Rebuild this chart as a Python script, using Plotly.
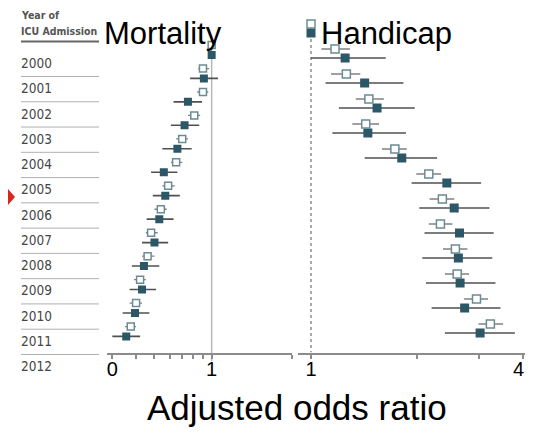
import math
import plotly.graph_objects as go

W, H = 533, 444
OX, OY = 8, 8   # page offset of the figure inside the browser window

# ---------------- data ----------------
years = [2000, 2001, 2002, 2003, 2004, 2005, 2006, 2007, 2008, 2009, 2010, 2011, 2012]

# Mortality (open = crude, filled = adjusted)
mort_crude    = [1.00, 0.90, 0.90, 0.81, 0.70, 0.65, 0.59, 0.54, 0.48, 0.46, 0.42, 0.40, 0.375]
mort_crude_lo = [1.00, 0.85, 0.84, 0.75, 0.65, 0.61, 0.55, 0.50, 0.45, 0.43, 0.39, 0.37, 0.35]
mort_crude_hi = [1.00, 0.97, 0.96, 0.87, 0.75, 0.70, 0.64, 0.58, 0.52, 0.50, 0.45, 0.43, 0.40]
mort_adj      = [1.00, 0.91, 0.75, 0.72, 0.66, 0.56, 0.57, 0.53, 0.50, 0.44, 0.43, 0.395, 0.355]
mort_adj_lo   = [1.00, 0.77, 0.63, 0.61, 0.55, 0.48, 0.49, 0.455, 0.43, 0.38, 0.37, 0.34, 0.30]
mort_adj_hi   = [1.00, 1.08, 0.89, 0.86, 0.785, 0.66, 0.68, 0.63, 0.59, 0.53, 0.51, 0.47, 0.42]

# Handicap
hand_crude    = [1.00, 1.17, 1.26, 1.46, 1.43, 1.73, 2.16, 2.36, 2.33, 2.57, 2.60, 2.95, 3.23]
hand_crude_lo = [1.00, 1.07, 1.14, 1.34, 1.31, 1.59, 1.99, 2.17, 2.16, 2.37, 2.40, 2.72, 2.99]
hand_crude_hi = [1.00, 1.29, 1.38, 1.61, 1.56, 1.87, 2.34, 2.55, 2.52, 2.78, 2.81, 3.18, 3.51]
hand_adj      = [1.00, 1.25, 1.42, 1.54, 1.45, 1.81, 2.43, 2.55, 2.64, 2.62, 2.65, 2.73, 3.02]
hand_adj_lo   = [1.00, 1.00, 1.10, 1.20, 1.15, 1.42, 1.93, 2.03, 2.10, 2.07, 2.12, 2.20, 2.40]
hand_adj_hi   = [1.00, 1.63, 1.83, 1.97, 1.86, 2.28, 3.04, 3.21, 3.30, 3.27, 3.34, 3.45, 3.79]

mort_ticks = [0.3, 0.4, 0.5, 0.6, 0.7, 0.8, 0.9, 1.0, 2.64]
mort_ticktext = ["0", "", "", "", "", "", "", "1", ""]
hand_ticks = [1, 2, 3, 4]
hand_ticktext = ["1", "", "", ""]
hand_end_label = "4"

# ---------------- helpers (page pixels -> paper) ----------------
def px(x):
    return (x - OX) / W

def py(y):
    return 1 - (y - OY) / H

idx = list(range(len(years)))
FILL = "#2c5766"
OPEN_LINE = "#6a8c94"
ERR_F = "#505050"
ERR_O = "#808080"

fig = go.Figure()

def add_panel(xa, ya, crude, clo, chi, adj, alo, ahi, off, s_open, s_fill):
    fig.add_trace(go.Scatter(
        x=adj, y=[i + off for i in idx], mode="markers",
        xaxis=xa, yaxis=ya,
        marker=dict(symbol="square", size=s_fill, color=FILL, line=dict(width=0)),
        error_x=dict(type="data", symmetric=False,
                     array=[h - v for h, v in zip(ahi, adj)],
                     arrayminus=[v - l for v, l in zip(adj, alo)],
                     color=ERR_F, thickness=1.6, width=0),
        showlegend=False, hoverinfo="skip"))
    fig.add_trace(go.Scatter(
        x=crude, y=[i - off for i in idx], mode="markers",
        xaxis=xa, yaxis=ya,
        marker=dict(symbol="square", size=s_open, color="white",
                    line=dict(width=1.5, color=OPEN_LINE)),
        error_x=dict(type="data", symmetric=False,
                     array=[h - v for h, v in zip(chi, crude)],
                     arrayminus=[v - l for v, l in zip(crude, clo)],
                     color=ERR_O, thickness=1.3, width=0),
        showlegend=False, hoverinfo="skip"))

add_panel("x", "y", mort_crude, mort_crude_lo, mort_crude_hi,
          mort_adj, mort_adj_lo, mort_adj_hi, 0.21, 7, 8)
add_panel("x2", "y2", hand_crude, hand_crude_lo, hand_crude_hi,
          hand_adj, hand_adj_lo, hand_adj_hi, 0.18, 8, 9)

# year label column
fig.add_trace(go.Scatter(
    x=[0] * len(years), y=idx, mode="text", text=[str(y) for y in years],
    textposition="middle right", xaxis="x3", yaxis="y3", cliponaxis=False,
    textfont=dict(family="DejaVu Sans Condensed, Liberation Sans Narrow, sans-serif",
                  size=13.5, color="#454545"),
    showlegend=False, hoverinfo="skip"))

tick_font = dict(family="Liberation Sans, Arial, sans-serif", size=20, color="black")
axis_common = dict(showgrid=False, zeroline=False, showline=True,
                   linecolor="#8c8c8c", linewidth=2, ticks="outside",
                   ticklen=4, tickwidth=1.5, tickcolor="#8c8c8c",
                   ticklabelstandoff=-7, tickfont=tick_font)

fig.update_layout(
    width=W, height=H, margin=dict(l=0, r=0, t=0, b=0),
    paper_bgcolor="white", plot_bgcolor="rgba(0,0,0,0)",
    xaxis=dict(domain=[px(107), px(292)], type="log", range=[-0.551, 0.423],
               anchor="y", tickvals=mort_ticks, ticktext=mort_ticktext,
               **axis_common),
    yaxis=dict(domain=[py(353.3), py(20)], range=[12.93, -1.279],
               visible=False, anchor="x"),
    xaxis2=dict(domain=[px(298), px(528)], type="log", range=[-0.0369, 0.616],
                anchor="y2", tickvals=hand_ticks, ticktext=hand_ticktext,
                **axis_common),
    yaxis2=dict(domain=[py(352.5), py(15)], range=[12.96, -0.54],
                visible=False, anchor="x2"),
    xaxis3=dict(domain=[px(21), px(99)], range=[0, 1], visible=False, anchor="y3"),
    yaxis3=dict(domain=[py(444 + OY), py(OY)], range=[15.327, -2.244],
                visible=False, anchor="x3"),
)

shapes = []
# reference lines at OR = 1
shapes.append(dict(type="line", xref="x", yref="paper", x0=1, x1=1,
                   y0=py(361), y1=py(42),
                   line=dict(color="#b8b8b8", width=1.5), layer="below"))
shapes.append(dict(type="line", xref="x2", yref="y2", x0=1, x1=1, y0=-0.3, y1=12.96,
                   line=dict(color="#8c8c8c", width=1.5, dash="dot"), layer="below"))
# separators in the year column
for i in idx[:-1]:
    shapes.append(dict(type="line", xref="x3", yref="y3", x0=0, x1=1,
                       y0=i + 0.467, y1=i + 0.467,
                       line=dict(color="#b0b0b0", width=1)))
# header underline
shapes.append(dict(type="line", xref="x3", yref="paper", x0=0, x1=1,
                   y0=py(41.5), y1=py(41.5), line=dict(color="#666666", width=2)))
# red arrow (its left part lies in the page margin)
shapes.append(dict(type="path", xref="paper", yref="paper",
                   path=f"M {px(8)},{py(189)} L {px(15)},{py(197)} L {px(8)},{py(205)} Z",
                   fillcolor="#d8261a", line=dict(width=0)))
fig.update_layout(shapes=shapes)

hdr_font = dict(family="DejaVu Sans Condensed, Liberation Sans Narrow, sans-serif",
                size=10.5, color="#555555")
title_font = dict(family="Liberation Sans, Arial, sans-serif", size=31, color="black")
fig.update_layout(annotations=[
    dict(text="<b>Year of</b>", x=px(19), y=py(15), xref="paper", yref="paper",
         xanchor="left", yanchor="middle", showarrow=False, font=hdr_font),
    dict(text="<b>ICU Admission</b>", x=px(19), y=py(31), xref="paper", yref="paper",
         xanchor="left", yanchor="middle", showarrow=False, font=hdr_font),
    dict(text="Mortality", x=px(102), y=py(34), xref="paper", yref="paper",
         xanchor="left", yanchor="middle", showarrow=False, font=title_font),
    dict(text="Handicap", x=px(319), y=py(34), xref="paper", yref="paper",
         xanchor="left", yanchor="middle", showarrow=False, font=title_font),
    # end label of the handicap axis (log axis -> position in log10 units),
    # nudged left so it stays inside the window
    dict(text=hand_end_label, x=math.log10(hand_ticks[-1]), xref="x2", xshift=-5,
         y=py(369), yref="paper", xanchor="center", yanchor="middle",
         showarrow=False, font=tick_font),
    dict(text="Adjusted odds ratio", x=px(297), y=py(407), xref="paper", yref="paper",
         xanchor="center", yanchor="middle", showarrow=False,
         font=dict(family="Liberation Sans, Arial, sans-serif", size=35, color="black")),
])

fig.write_html("out.html")
